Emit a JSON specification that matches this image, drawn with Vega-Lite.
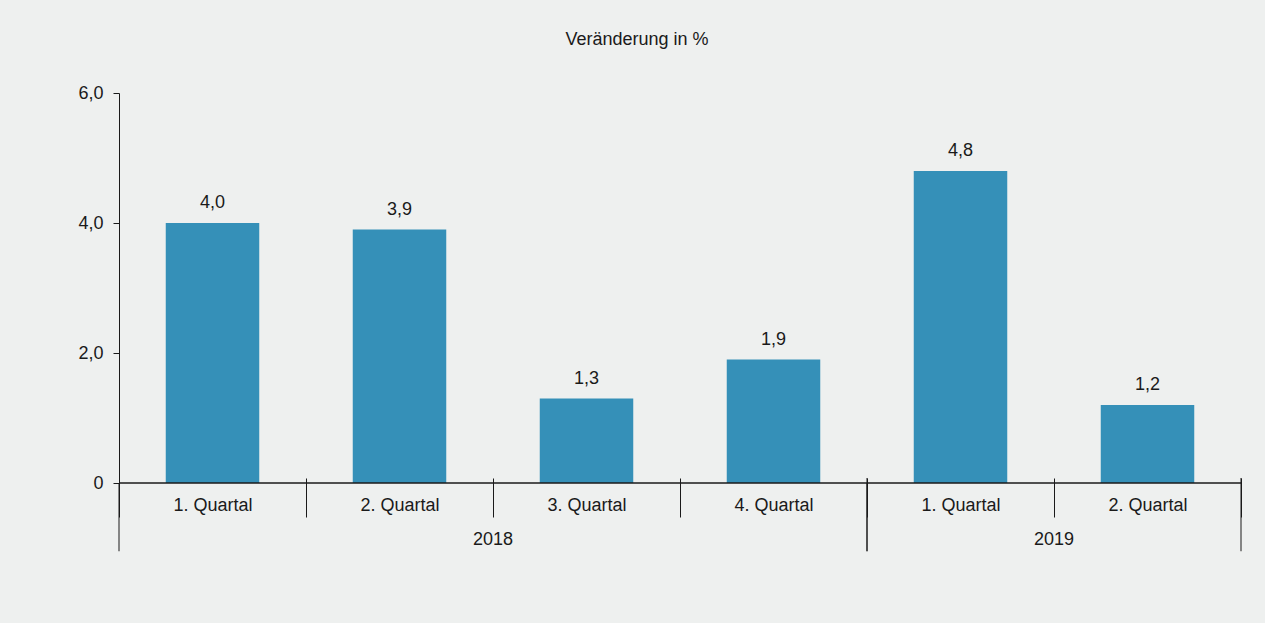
{
  "$schema": "https://vega.github.io/schema/vega-lite/v6.json",
  "width": 1122,
  "height": 390,
  "autosize": {"type": "none"},
  "padding": {"left": 119, "top": 93, "right": 24, "bottom": 140},
  "background": "#eef0ef",
  "config": {
    "view": {"stroke": null},
    "font": "Liberation Sans",
    "locale": {"number": {"decimal": ",", "thousands": ".", "grouping": [3], "currency": ["", " €"]}},
    "axis": {"labelFont": "Liberation Sans", "labelFontSize": 18, "labelColor": "#1a1a1a", "tickColor": "#1a1a1a", "domainColor": "#1a1a1a", "grid": false, "title": null}
  },
  "title": {"text": "Veränderung in %", "fontSize": 18, "fontWeight": "normal", "color": "#1a1a1a", "anchor": "middle", "dx": -43, "offset": 21, "baseline": "alphabetic", "font": "Liberation Sans"},
  "datasets": {
    "quartale": [
      {"Periode": "2018-1", "Jahr": "2018", "Wert": 4.0},
      {"Periode": "2018-2", "Jahr": "2018", "Wert": 3.9},
      {"Periode": "2018-3", "Jahr": "2018", "Wert": 1.3},
      {"Periode": "2018-4", "Jahr": "2018", "Wert": 1.9},
      {"Periode": "2019-1", "Jahr": "2019", "Wert": 4.8},
      {"Periode": "2019-2", "Jahr": "2019", "Wert": 1.2}
    ],
    "jahre": [
      {"Jahr": "2018", "Beginn": "2018-1", "Ende": "2018-4", "Mitte": "2018-3"},
      {"Jahr": "2019", "Beginn": "2019-1", "Ende": "2019-2", "Mitte": "2019-2"}
    ]
  },
  "layer": [
    {
      "data": {"name": "quartale"},
      "mark": {"type": "bar", "color": "#3590b8", "width": {"band": 0.5}},
      "encoding": {
        "x": {
          "field": "Periode", "type": "nominal", "sort": null, "title": null,
          "scale": {"paddingInner": 0, "paddingOuter": 0},
          "axis": {"orient": "bottom", "domain": false, "tickBand": "extent", "tickSize": 39, "offset": -5, "labelPadding": -11.5, "labelBaseline": "middle", "labelAngle": 0, "labelExpr": "test(/-/, datum.label + '') ? slice(datum.label, 5) + '. Quartal' : ''"}
        },
        "y": {
          "field": "Wert", "type": "quantitative", "title": null,
          "scale": {"domain": [0, 6], "nice": false, "zero": true},
          "axis": {"values": [0, 2, 4, 6], "format": ".1f", "labelExpr": "datum.value === 0 ? '0' : datum.label", "tickSize": 6, "labelPadding": 10, "domain": true}
        }
      }
    },
    {
      "data": {"name": "quartale"},
      "mark": {"type": "text", "fontSize": 18, "color": "#1a1a1a", "baseline": "alphabetic", "dy": -15, "align": "center"},
      "encoding": {
        "x": {"field": "Periode", "type": "nominal", "sort": null, "title": null},
        "y": {"field": "Wert", "type": "quantitative", "title": null},
        "text": {"field": "Wert", "type": "quantitative", "format": ".1f"}
      }
    },
    {
      "data": {"name": "jahre"},
      "mark": {"type": "rule", "color": "#1a1a1a", "strokeWidth": 1},
      "encoding": {"y": {"datum": 0}}
    },
    {
      "data": {"name": "jahre"},
      "mark": {"type": "rule", "color": "#1a1a1a", "strokeWidth": 1},
      "encoding": {
        "x": {"field": "Beginn", "type": "nominal", "bandPosition": 0, "title": null},
        "y": {"datum": 0},
        "y2": {"datum": -1.05}
      }
    },
    {
      "data": {"name": "jahre"},
      "mark": {"type": "rule", "color": "#1a1a1a", "strokeWidth": 1},
      "encoding": {
        "x": {"field": "Ende", "type": "nominal", "bandPosition": 1, "title": null},
        "y": {"datum": 0.077},
        "y2": {"datum": -1.05}
      }
    },
    {
      "data": {"name": "jahre"},
      "mark": {"type": "text", "fontSize": 18, "color": "#1a1a1a", "baseline": "middle", "align": "center"},
      "encoding": {
        "x": {"field": "Mitte", "type": "nominal", "bandPosition": 0, "title": null},
        "y": {"datum": -0.877},
        "text": {"field": "Jahr", "type": "nominal"}
      }
    }
  ]
}
